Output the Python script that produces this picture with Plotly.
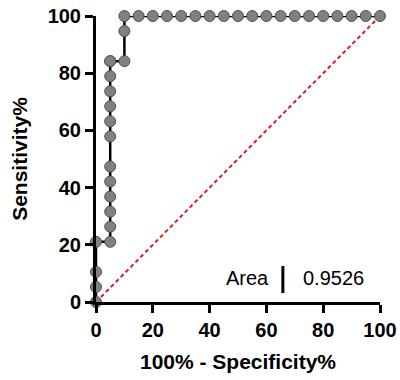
import plotly.graph_objects as go

# ROC points (100% - Specificity%, Sensitivity%)
fpr = [0, 0, 0, 0,
       5, 5, 5, 5, 5, 5, 5, 5, 5, 5, 5, 5, 5,
       10, 10, 10,
       15, 20, 25, 30, 35, 40, 45, 50, 55, 60, 65, 70, 75, 80, 85, 90, 95, 100]
tpr = [0, 5.26, 10.53, 21.05,
       21.05, 26.32, 31.58, 36.84, 42.11, 47.37, 57.89, 63.16, 68.42, 73.68, 78.95, 84.21, 84.21,
       84.21, 94.74, 100,
       100, 100, 100, 100, 100, 100, 100, 100, 100, 100, 100, 100, 100, 100, 100, 100, 100, 100]
# chance line
ref_x = [0, 100]
ref_y = [0, 100]
tick_vals = [0, 20, 40, 60, 80, 100]
area_label = "Area"
area_value = "0.9526"

FONT = "Liberation Sans, Arial, sans-serif"

fig = go.Figure()
fig.add_trace(go.Scatter(x=ref_x, y=ref_y, mode="lines",
                         line=dict(color="#d62020", width=2, dash="4px,3px"),
                         hoverinfo="skip", cliponaxis=False))
fig.add_trace(go.Scatter(x=fpr, y=tpr, mode="lines+markers",
                         line=dict(color="black", width=2.5),
                         marker=dict(size=11, color="#808080",
                                     line=dict(color="#505050", width=1)),
                         cliponaxis=False))

fig.add_annotation(x=53.5, y=8.4, xref="x", yref="y", text=area_label, showarrow=False,
                   font=dict(family=FONT, size=20, color="black"))
fig.add_annotation(x=83.8, y=8.4, xref="x", yref="y", text=area_value, showarrow=False,
                   font=dict(family=FONT, size=20, color="black"))
fig.add_shape(type="line", xref="x", yref="y", x0=65.8, x1=65.8, y0=3.1, y1=12.6,
              line=dict(color="black", width=3))

axis_common = dict(range=[0, 100], tickvals=tick_vals, showgrid=False, zeroline=False,
                   showline=True, linecolor="black", linewidth=3, automargin=False,
                   ticklabeloverflow="allow",
                   ticks="outside", ticklen=8, tickwidth=3, tickcolor="black",
                   tickfont=dict(family=FONT, size=20, color="black", weight="bold"))

fig.update_xaxes(**axis_common,
                 title=dict(text="100% - Specificity%",
                            font=dict(family=FONT, size=21, color="black", weight="bold")))
fig.update_yaxes(**axis_common,
                 title=dict(text="Sensitivity%",
                            font=dict(family=FONT, size=21, color="black", weight="bold")))

fig.update_layout(width=400, height=380, showlegend=False,
                  margin=dict(l=96, r=20, t=16, b=78),
                  plot_bgcolor="white", paper_bgcolor="white")

# remove the default page margin so the figure fills the window exactly
fig.write_html("out.html",
               config={"displayModeBar": False},
               post_script="document.body.style.margin='0';document.body.style.overflow='hidden';")
